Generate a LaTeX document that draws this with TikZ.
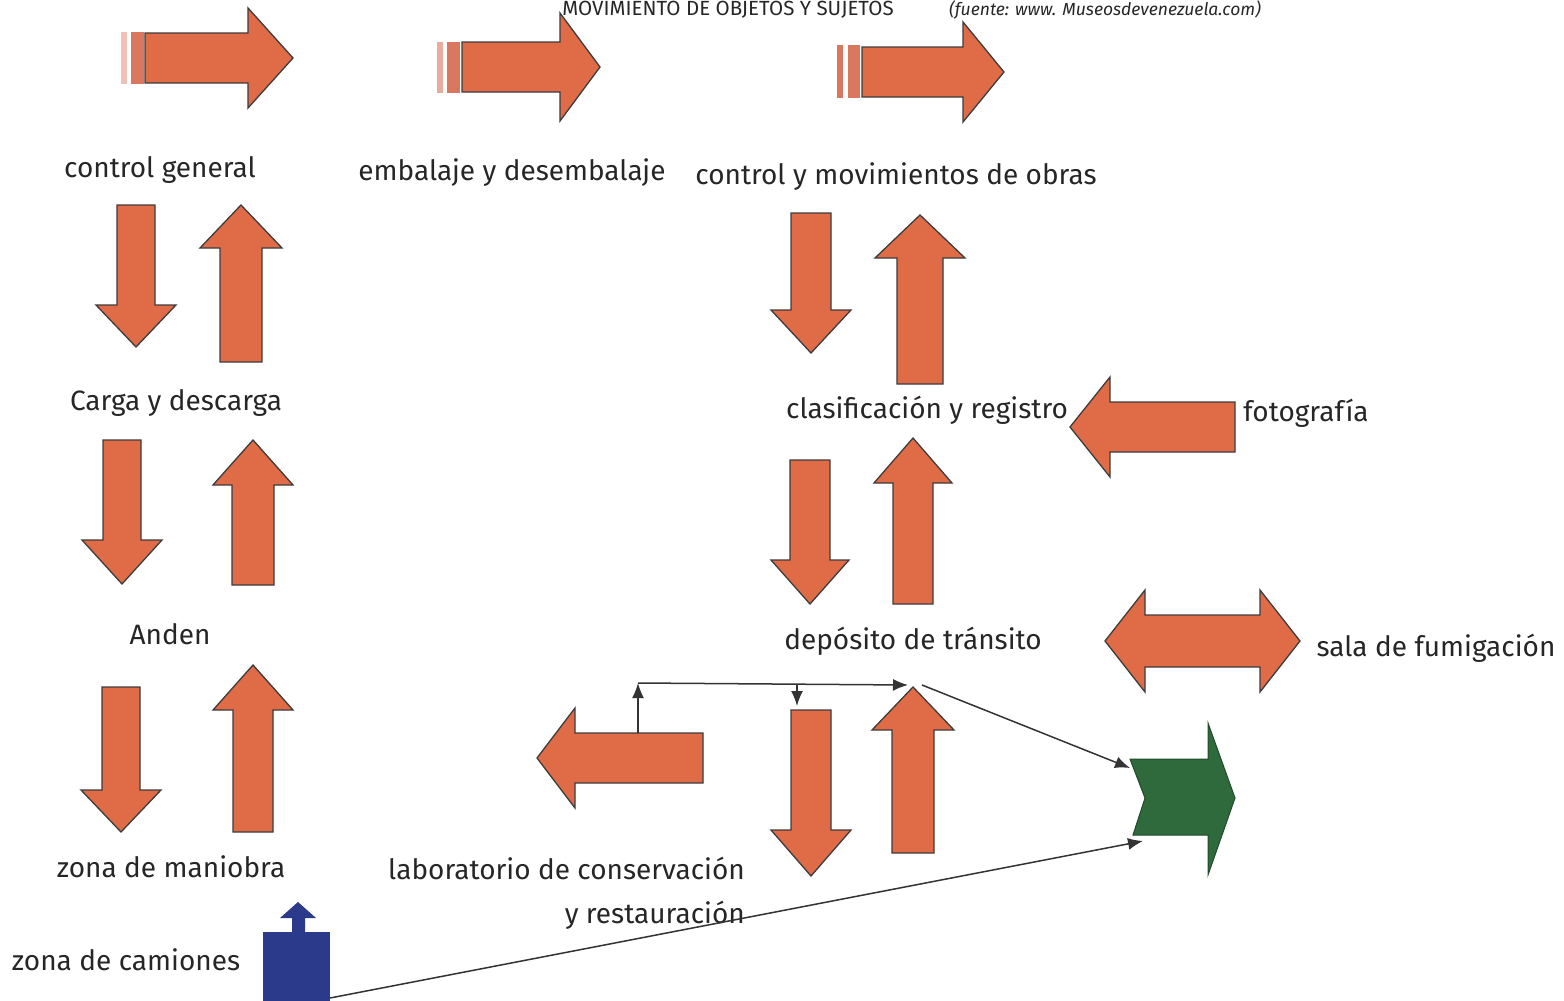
\documentclass[tikz,border=0pt]{standalone}
\usepackage{fontspec}
\setmainfont{Fira Sans}
\usetikzlibrary{arrows.meta}

\definecolor{arrorange}{HTML}{E06C47}
\definecolor{arredge}{HTML}{3C3C3C}
\definecolor{markred}{HTML}{D9775F}
\definecolor{boxgreen}{HTML}{2F6A3D}
\definecolor{boxblue}{HTML}{2C3A8C}

\tikzset{
  orarrow/.style={fill=arrorange, draw=arredge, line width=1.3pt, line join=miter},
  lbl/.style={font=\fontsize{28}{33}\selectfont, inner sep=0pt, text=black!85},
  thinline/.style={draw=black!80, line width=1.5pt},
  tip/.style={-{Latex[length=15pt,width=12pt]}}
}

% vertical block arrow: x, tail y, head base y, tip y, half shaft, half head
\newcommand{\vertarrow}[6]{%
  \draw[orarrow] (#1-#5,#2) -- (#1-#5,#3) -- (#1-#6,#3) -- (#1,#4)
    -- (#1+#6,#3) -- (#1+#5,#3) -- (#1+#5,#2) -- cycle;}
% horizontal block arrow: y, tail x, head base x, tip x, half shaft, half head
\newcommand{\horarrow}[6]{%
  \draw[orarrow] (#2,#1-#5) -- (#3,#1-#5) -- (#3,#1-#6) -- (#4,#1)
    -- (#3,#1+#6) -- (#3,#1+#5) -- (#2,#1+#5) -- cycle;}

\begin{document}
\begin{tikzpicture}[x=1pt, y=-1pt]
  \useasboundingbox (0,0) rectangle (1564,1001);

  % title
  \node[lbl, anchor=base, font=\fontsize{20.5}{24}\selectfont] (title) at (728,15) {MOVIMIENTO DE OBJETOS Y SUJETOS};
  \node[lbl, anchor=base, font=\fontsize{17.5}{21}\selectfont\itshape] (source) at (1105,16) {(fuente: www. Museosdevenezuela.com)};

  % top row
  \fill[markred!45] (121,32) rectangle (127,84);
  \fill[markred] (131,32) rectangle (144,84);
  \horarrow{58}{145}{248}{293}{25}{50}
  \fill[markred!60] (437,42) rectangle (443,93);
  \fill[markred] (447,42) rectangle (460,93);
  \horarrow{67}{462}{560}{600}{25}{54}
  \fill[markred] (837,45) rectangle (843,98);
  \fill[markred] (848,45) rectangle (860,98);
  \horarrow{72}{862}{963}{1004}{25}{50}

  % left column
  \vertarrow{136}{205}{305}{347}{19}{40}
  \vertarrow{241}{362}{248}{205}{21}{41}
  \vertarrow{122}{440}{540}{584}{19}{40}
  \vertarrow{253}{585}{485}{440}{21}{40}
  \vertarrow{121}{687}{790}{832}{19}{40}
  \vertarrow{253}{832}{710}{665}{20}{40}

  % right column
  \vertarrow{811}{213}{310}{353}{20}{40}
  \vertarrow{920}{384}{258}{215}{23}{45}
  \vertarrow{810}{460}{560}{604}{20}{39}
  \vertarrow{913}{604}{483}{438}{20}{39}
  \vertarrow{811}{710}{830}{876}{20}{40}
  \vertarrow{913}{853}{730}{687}{21}{41}

  % side arrows
  \horarrow{427}{1235}{1110}{1070}{25}{50}
  \horarrow{758}{703}{575}{537}{25}{50}
  \draw[orarrow] (1105,641) -- (1145,590) -- (1145,615) -- (1260,615) -- (1260,590)
    -- (1300,641) -- (1260,692) -- (1260,667) -- (1145,667) -- (1145,692) -- cycle;

  % exit and trucks
  \draw[fill=boxgreen, draw=boxgreen!70!black, line width=1pt] (1130,759) -- (1208,759) -- (1208,723)
    -- (1235,798) -- (1208,875) -- (1208,835) -- (1133,835) -- (1145,798) -- cycle;
  \fill[boxblue] (263,932) rectangle (330,1001);
  \fill[boxblue] (292,933) -- (292,918) -- (280,918) -- (298,902) -- (316,918) -- (305,918) -- (305,933) -- cycle;

  % labels
  \node[lbl] (general) at (160,170) {control general};
  \node[lbl] (embalaje) at (512,173) {embalaje y desembalaje};
  \node[lbl] (movim) at (896,177) {control y movimientos de obras};
  \node[lbl] (carga) at (176,403) {Carga y descarga};
  \node[lbl] (clasif) at (927,410) {clasificación y registro};
  \node[lbl] (foto) at (1306,413) {fotografía};
  \node[lbl] (anden) at (170,634) {Anden};
  \node[lbl] (deposito) at (913,641) {depósito de tránsito};
  \node[lbl] (fumig) at (1436,648) {sala de fumigación};
  \node[lbl] (maniobra) at (171,867) {zona de maniobra};
  \node[lbl, align=right, anchor=north east] (lab) at (745,857)
    {laboratorio de conservación\\[11pt]y restauración};
  \node[lbl] (camiones) at (126,960) {zona de camiones};

  % connectors
  \coordinate (labout) at (638,733);
  \coordinate (junction) at (638,683);
  \coordinate (deptop) at (797,706);
  \coordinate (depsplit) at (797,684);
  \coordinate (uptip) at (908,685);
  \coordinate (upout) at (922,685);
  \coordinate (exitin) at (1130,768);
  \coordinate (truck) at (330,998);
  \coordinate (exitlow) at (1143,841);
  \draw[thinline, tip] (labout) -- (junction);
  \draw[thinline, tip] (junction) -- (uptip);
  \draw[thinline, tip] (depsplit) -- (deptop);
  \draw[thinline, tip] (upout) -- (exitin);
  \draw[thinline, tip] (truck) -- (exitlow);
\end{tikzpicture}
\end{document}
